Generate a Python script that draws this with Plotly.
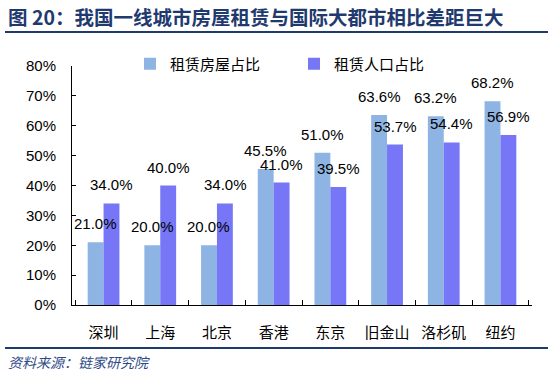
import plotly.graph_objects as go

cities = ["深圳", "上海", "北京", "香港", "东京", "旧金山", "洛杉矶", "纽约"]
house_share = [0.210, 0.200, 0.200, 0.455, 0.510, 0.636, 0.632, 0.682]
pop_share = [0.340, 0.400, 0.340, 0.410, 0.395, 0.537, 0.544, 0.569]
series_names = ["租赁房屋占比", "租赁人口占比"]
colors = ["#8DB4E2", "#7676F6"]

title_text = "<b>图 20：我国一线城市房屋租赁与国际大都市相比差距巨大</b>"
source_text = "<i>资料来源：链家研究院</i>"

FONT = "Liberation Sans, Arial, Noto Sans CJK SC, sans-serif"
CJK = "Noto Sans CJK SC, Liberation Sans, sans-serif"

W, H = 550, 374
ML, MR, MT, MB = 72, 18, 66, 69
plot_w = W - ML - MR

fig = go.Figure()
for name, vals, col in zip(series_names, [house_share, pop_share], colors):
    fig.add_trace(go.Bar(x=cities, y=vals, name=name, marker=dict(color=col, line=dict(width=0)),
                         hoverinfo="skip"))

bargap = 0.44
cat_w = plot_w / len(cities)
bar_w = cat_w * (1 - bargap) / 2
annotations = []
for k, vals in enumerate([house_share, pop_share]):
    shift = (-0.5 if k == 0 else 0.5) * bar_w
    for c, v in zip(cities, vals):
        annotations.append(dict(
            x=c, y=v, xref="x", yref="y", text=f"{v*100:.1f}%", showarrow=False,
            xanchor="center", yanchor="bottom", xshift=shift, yshift=8,
            font=dict(family=FONT, size=15, color="#000000")))

ph = H - MT - MB
def py(ypx):
    return 1 - (ypx - MT) / ph
def px(xpx):
    return (xpx - ML) / plot_w

# title and source
annotations.append(dict(x=px(6), y=py(16), xref="paper", yref="paper",
                        text=title_text, showarrow=False, xanchor="left", yanchor="middle",
                        font=dict(family=CJK, size=19.5, color="#1F3A6E")))
annotations.append(dict(x=px(6), y=py(362), xref="paper", yref="paper",
                        text=source_text, showarrow=False, xanchor="left", yanchor="middle",
                        font=dict(family=CJK, size=14, color="#2E4A86", style="italic")))

shapes = [
    dict(type="line", xref="paper", yref="paper", x0=px(5), x1=px(548), y0=py(32), y1=py(32),
         line=dict(color="#1F3A6E", width=2)),
    dict(type="line", xref="paper", yref="paper", x0=px(5), x1=px(548), y0=py(348), y1=py(348),
         line=dict(color="#1F3A6E", width=2)),
]

fig.update_layout(
    width=W, height=H,
    margin=dict(l=ML, r=MR, t=MT, b=MB, autoexpand=False),
    paper_bgcolor="white", plot_bgcolor="white",
    barmode="group", bargap=bargap, bargroupgap=0,
    showlegend=True,
    legend=dict(orientation="h", x=px(130), y=py(64), xanchor="left", yanchor="middle",
                font=dict(family=CJK, size=15, color="#000000"), entrywidth=119, entrywidthmode="pixels",
                bgcolor="rgba(0,0,0,0)", itemclick=False),
    annotations=annotations,
    shapes=shapes,
    xaxis=dict(showline=True, linecolor="#000000", linewidth=1, ticks="inside", ticklen=5,
               tickcolor="#000000", tickson="boundaries", showgrid=False, tickangle=0,
               automargin=False,
               tickfont=dict(family=CJK, size=15, color="#000000"), ticklabelstandoff=14),
    yaxis=dict(range=[0, 0.8], dtick=0.1, tickformat=".0%", showline=True, linecolor="#000000",
               linewidth=1, ticks="inside", ticklen=4, tickcolor="#000000", showgrid=False,
               automargin=False,
               zeroline=False, tickfont=dict(family=FONT, size=15, color="#000000"),
               ticklabelstandoff=12),
)

fig.write_html("out.html", config={"displayModeBar": False},
               post_script="document.body.style.margin='0';document.body.style.overflow='hidden';")
